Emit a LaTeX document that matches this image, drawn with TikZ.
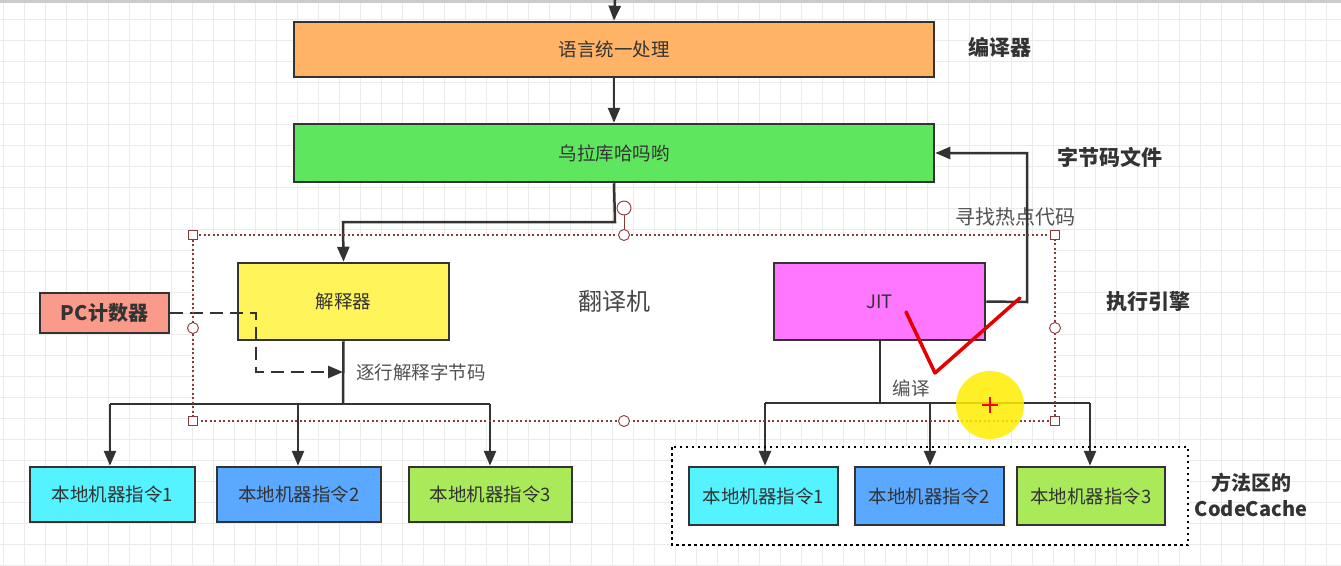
\documentclass[tikz,border=0pt]{standalone}
\usepackage{fontspec}
\setmainfont{Noto Sans CJK SC}
\usetikzlibrary{arrows.meta}
\definecolor{cOrange}{HTML}{FFB366}
\definecolor{cGreen}{HTML}{5EE65E}
\definecolor{cYellow}{HTML}{FFF55A}
\definecolor{cMagenta}{HTML}{FF77FF}
\definecolor{cSalmon}{HTML}{FA9A8A}
\definecolor{cCyan}{HTML}{55F2FF}
\definecolor{cBlue}{HTML}{5AA8FF}
\definecolor{cLime}{HTML}{AAEA5A}
\definecolor{cLine}{HTML}{333333}
\definecolor{cText}{HTML}{333333}
\definecolor{cGrid}{HTML}{EBEBEB}
\definecolor{cSel}{HTML}{8B3A3A}
\tikzset{
  box/.style={draw=cLine, line width=2.5pt, inner sep=0pt, text=cText, font=\fontsize{18.5}{22}\selectfont},
  conn/.style={draw=cLine, line width=2.5pt},
  arr/.style={conn, -{Triangle[length=15pt,width=12pt]}},
  lbl/.style={text=cText, font=\fontsize{21}{24}\selectfont\bfseries},
  glbl/.style={text=cText!85, font=\fontsize{18.5}{22}\selectfont},
  shandle/.style={draw=cSel, fill=white, line width=0.9pt, minimum size=9pt, inner sep=0pt},
  chandle/.style={draw=cSel, fill=white, line width=0.9pt, circle, minimum size=11pt, inner sep=0pt},
}
\begin{document}
\begin{tikzpicture}[x=1pt,y=-1pt]
\useasboundingbox (0,0) rectangle (1341,565);
\fill[white] (0,0) rectangle (1341,565);
% grid
\foreach \gx in {3,24,...,1341} \draw[cGrid, line width=1pt] (\gx,0) -- (\gx,565);
\foreach \gy in {19,40,...,565} \draw[cGrid, line width=1pt] (0,\gy) -- (1341,\gy);
\fill[gray!40] (0,0) rectangle (1341,3);

% white area inside selection
\fill[white] (193,235) rectangle (1055,421);
\fill[white] (672,447) rectangle (1188,545);

% main boxes
\node[box, fill=cOrange, minimum width=640pt, minimum height=55pt] (orange) at (614,49.5) {语言统一处理};
\node[box, fill=cGreen, minimum width=640pt, minimum height=58pt] (green) at (614,153) {乌拉库哈吗哟};
\node[box, fill=cYellow, minimum width=211pt, minimum height=77pt] (interp) at (343.5,301.5) {解释器};
\node[box, fill=cMagenta, minimum width=211pt, minimum height=77pt] (jit) at (879.5,301.5) {JIT};
\node[box, fill=cSalmon, minimum width=129pt, minimum height=40pt, font=\fontsize{20}{23}\selectfont\bfseries] (pc) at (104.5,313) {PC计数器};

\node[box, fill=cCyan, minimum width=165pt, minimum height=55pt] (l1) at (112.5,494.5) {本地机器指令1};
\node[box, fill=cBlue, minimum width=164pt, minimum height=55pt] (l2) at (299,494.5) {本地机器指令2};
\node[box, fill=cLime, minimum width=163pt, minimum height=55pt] (l3) at (490.5,494.5) {本地机器指令3};

\node[box, fill=cCyan, minimum width=149pt, minimum height=58pt] (r1) at (763.5,496) {本地机器指令1};
\node[box, fill=cBlue, minimum width=149pt, minimum height=58pt] (r2) at (929.5,496) {本地机器指令2};
\node[box, fill=cLime, minimum width=148pt, minimum height=58pt] (r3) at (1091,496) {本地机器指令3};

% labels
\node[lbl] (tcomp) at (1000,47) {编译器};
\node[lbl] (tbyte) at (1110,157) {字节码文件};
\node[lbl] (texec) at (1148,302) {执行引擎};
\node[lbl, align=center, font=\fontsize{20}{26}\selectfont\bfseries] (tcache) at (1251,495) {方法区的\\CodeCache};
\node[text=cText!90, font=\fontsize{24}{28}\selectfont] (tfy) at (614,301) {翻译机};
\node[glbl, font=\fontsize{20}{23}\selectfont] (tfind) at (1015,217) {寻找热点代码};
\node[glbl] (tline) at (421,372) {逐行解释字节码};
\node[glbl] (tbian) at (911,388) {编译};

% coordinates
\coordinate (top) at (615,0);
\coordinate (g1) at (615,222);
\coordinate (g2) at (343,222);
\coordinate (ib) at (343,404);
\coordinate (jb) at (880,403);
\coordinate (jr) at (1027,302);
\coordinate (jt) at (1027,153);

% connectors
\draw[arr] (top) -- (orange.north);
\draw[arr] (orange.south) -- (green.north);
\draw[arr] (green.south) -- (g1) -- (g2) -- (interp.north);
\draw[arr] (jit.east) -- (jr) -- (jt) -- (green.east);

\draw[conn] (interp.south) -- (ib);
\draw[conn] (110,404) -- (490,404);
\draw[arr] (110,404) -- (l1.north -| 110,0);
\draw[arr] (298,404) -- (l2.north -| 298,0);
\draw[arr] (490,404) -- (l3.north -| 490,0);

\draw[conn] (jit.south -| jb) -- (jb);
\draw[conn] (765,403) -- (1090,403);
\draw[arr] (765,403) -- (r1.north -| 765,0);
\draw[arr] (930,403) -- (r2.north -| 930,0);
\draw[arr] (1090,403) -- (r3.north -| 1090,0);

\coordinate (d1) at (256,313);
\coordinate (d2) at (256,372);
\coordinate (d3) at (343,372);
\draw[conn, dash pattern=on 13pt off 7pt, -{Triangle[length=15pt,width=12pt]}] (pc.east) -- (d1) -- (d2) -- (d3);

% code cache dotted box
\draw[black, line width=2.5pt, dash pattern=on 2.5pt off 3.5pt] (672,447) rectangle (1188,545);

% selection box with handles
\draw[cSel, line width=2pt, dash pattern=on 2pt off 2.5pt] (193,235) rectangle (1055,421);
\draw[cSel, line width=1pt] (624,208) -- (624,235);
\foreach \hx/\hy in {193/235,1055/235,193/421,1055/421} \node[shandle] at (\hx,\hy) {};
\foreach \hx/\hy in {624/235,624/421,193/328,1055/328} \node[chandle] at (\hx,\hy) {};
\node[chandle, minimum size=14pt] at (624,208) {};

% annotations
\draw[red!90!black, line width=3.5pt, line cap=round, line join=round] (906,312) -- (935,373) -- (1020,298);
\fill[yellow!95!orange, opacity=0.85] (990,405) circle (34pt);
\draw[red, line width=2.5pt] (982,405) -- (998,405) (990,397) -- (990,413);
\end{tikzpicture}
\end{document}
